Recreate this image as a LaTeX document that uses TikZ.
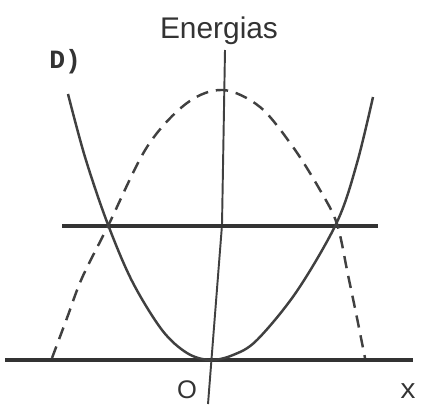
\documentclass[tikz,border=0pt]{standalone}
\usepackage{fontspec}
\setmainfont{Liberation Sans}
\setmonofont{Liberation Mono}
\usetikzlibrary{positioning}

\begin{document}
\begin{tikzpicture}[
  x = 0.02cm, y = -0.02cm,
  axisline/.style  = {draw=black!80, line width=2.2pt},
  levelline/.style = {draw=black!80, line width=1.8pt},
  vaxis/.style     = {draw=black!75, line width=1.1pt},
  curve/.style     = {draw=black!75, line width=1.4pt},
  dcurve/.style    = {curve, dash pattern=on 7pt off 4.5pt},
  lbl/.style       = {inner sep=0pt, text=black!80},
]
\useasboundingbox (0,0) rectangle (422,416);

%% ── Axes ─────────────────────────────────────────────────────────────────
\coordinate (xl) at (5,360);
\coordinate (xr) at (413,360);
\coordinate (et) at (225,50);
\coordinate (ek) at (222,225);
\coordinate (eb) at (208,404);
\draw[axisline] (xl) -- (xr);
\draw[vaxis]    (et) -- (ek) -- (eb);

%% ── Level line ───────────────────────────────────────────────────────────
\coordinate (ll) at (62,226);
\coordinate (lr) at (378,226);
\draw[levelline] (ll) -- (lr);

%% ── Curves ───────────────────────────────────────────────────────────────
\draw[curve] plot[smooth, tension=0.55] coordinates {
  (68,94) (85,157) (107,222) (132,281) (162,330) (187,353) (210,360)
  (233,355) (257,340) (297,291) (337,222) (357,163) (373,97)};
\draw[dcurve] plot[smooth, tension=0.55] coordinates {
  (52,358) (67,318) (82,278) (108,226) (147,147) (187,103) (223,90)
  (260,107) (293,147) (320,190) (337,224) (348,275) (357,318) (365,358)};

%% ── Labels ───────────────────────────────────────────────────────────────
\node[lbl, anchor=base, font=\fontsize{17}{20}\selectfont] (lblE) at (219,38) {Energias};
\node[lbl, anchor=base west, font=\fontsize{15}{18}\selectfont\ttfamily\bfseries] (lblD) at (49,68) {D)};
\node[lbl, anchor=base, font=\fontsize{14.5}{17}\selectfont] (lblO) at (187,398) {O};
\node[lbl, anchor=base, font=\fontsize{16}{18}\selectfont\ttfamily] (lblX) at (408,398) {x};

\end{tikzpicture}
\end{document}
